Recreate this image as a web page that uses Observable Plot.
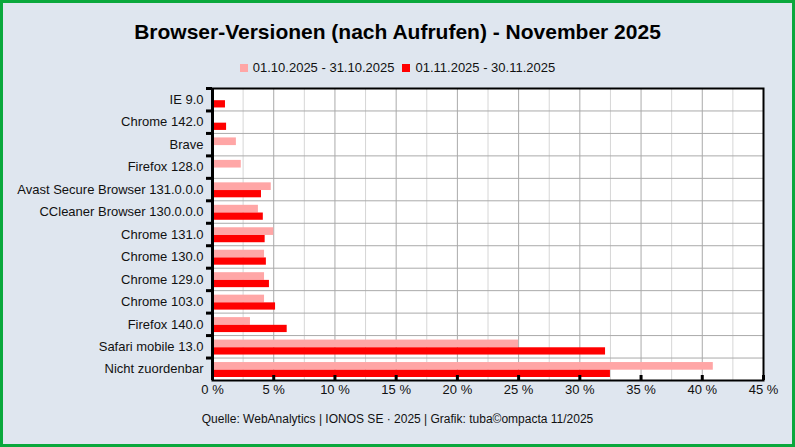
<!DOCTYPE html>
<html><head><meta charset="utf-8">
<script src="https://cdn.jsdelivr.net/npm/d3@7"></script>
<script src="https://cdn.jsdelivr.net/npm/@observablehq/plot@0.6"></script>
<style>
html,body{margin:0;padding:0;}
body{width:795px;height:447px;background:#dfe6ef;position:relative;overflow:hidden;font-family:"Liberation Sans",Arial,sans-serif;color:#111;}
#frame{position:absolute;left:0;top:0;width:795px;height:447px;box-sizing:border-box;border:3px solid #0aa83c;pointer-events:none;}
#title{position:absolute;top:18px;left:0;width:795px;text-align:center;font-weight:bold;font-size:21px;line-height:28px;color:#000;}
#legend{position:absolute;top:60px;left:0;width:795px;height:16px;display:flex;justify-content:center;align-items:center;font-size:13px;line-height:16px;}
#legend .item{display:flex;align-items:center;margin:0 4px;}
#legend .sw{width:8px;height:8px;margin-right:5px;}
#chart{position:absolute;top:80px;left:0;}
#caption{position:absolute;top:411px;left:0;width:795px;text-align:center;font-size:12px;line-height:16px;}
</style>
</head><body>
<div id="title">Browser-Versionen (nach Aufrufen) - November 2025</div>
<div id="legend"></div>
<div id="chart"></div>
<div id="caption">Quelle: WebAnalytics | IONOS SE · 2025 | Grafik: tuba©ompacta 11/2025</div>
<div id="frame"></div>
<script>
const categories = ["IE 9.0","Chrome 142.0","Brave","Firefox 128.0","Avast Secure Browser 131.0.0.0","CCleaner Browser 130.0.0.0","Chrome 131.0","Chrome 130.0","Chrome 129.0","Chrome 103.0","Firefox 140.0","Safari mobile 13.0","Nicht zuordenbar"];
const seriesNames = ["01.10.2025 - 31.10.2025","01.11.2025 - 30.11.2025"];
const octValues = [0, 0, 1.95, 2.35, 4.8, 3.75, 5.0, 4.25, 4.25, 4.25, 3.1, 25.0, 40.9];
const novValues = [1.06, 1.15, 0, 0, 4.0, 4.15, 4.3, 4.4, 4.65, 5.15, 6.1, 32.1, 32.5];
const xTicks = [0,5,10,15,20,25,30,35,40,45];
const xMinor = [2.5,7.5,12.5,17.5,22.5,27.5,32.5,37.5,42.5];
const colors = ["#ffa6a6","#ff0000"];

const legend = document.getElementById("legend");
seriesNames.forEach((n,i)=>{
  const it = document.createElement("div"); it.className="item";
  it.innerHTML = `<span class="sw" style="background:${colors[i]}"></span><span>${n}</span>`;
  legend.appendChild(it);
});

const octData = categories.map((c,i)=>({cat:c, v:octValues[i]}));
const novData = categories.map((c,i)=>({cat:c, v:novValues[i]}));

const H = 320, mT = 8, mB = 20;
const bw = (H - mT - mB) / categories.length;
const fmt = d => d + " %";

const chart = Plot.plot({
  width: 795, height: H, marginTop: mT, marginBottom: mB, marginLeft: 212, marginRight: 32,
  style: {background: "transparent", fontFamily: '"Liberation Sans", Arial, sans-serif', fontSize: "13px", color: "#111", overflow: "visible"},
  x: {domain: [0,45], ticks: xTicks, tickFormat: fmt},
  y: {domain: categories, padding: 0, round: false},
  marks: [
    Plot.frame({fill: "white"}),
    Plot.ruleX(xMinor, {stroke: "#d6d6d6"}),
    Plot.ruleX(xTicks, {stroke: "#aaaaaa"}),
    Plot.gridY({stroke: "#aaaaaa", strokeOpacity: 1, dy: -bw/2}),
    Plot.barX(octData, {x: "v", y: "cat", fill: colors[0], insetTop: 4.5, insetBottom: 10.3}),
    Plot.barX(novData, {x: "v", y: "cat", fill: colors[1], insetTop: 12.2, insetBottom: 3}),
    Plot.frame({stroke: "black", strokeWidth: 2}),
    Plot.ruleX([0], {stroke: "black", strokeWidth: 3}),
    Plot.axisY({tickSize: 0, tickPadding: 9, label: null}),
    Plot.axisY({tickSize: 6, strokeWidth: 3, stroke: "black", tickFormat: () => "", label: null, dy: -bw/2}),
    Plot.axisX({ticks: xTicks, tickSize: 0, tickPadding: 4, tickFormat: fmt, label: null}),
    Plot.axisX({ticks: xTicks, tickSize: -5, strokeWidth: 3, stroke: "black", tickFormat: () => "", label: null})
  ]
});
document.getElementById("chart").appendChild(chart);
</script>
</body></html>
